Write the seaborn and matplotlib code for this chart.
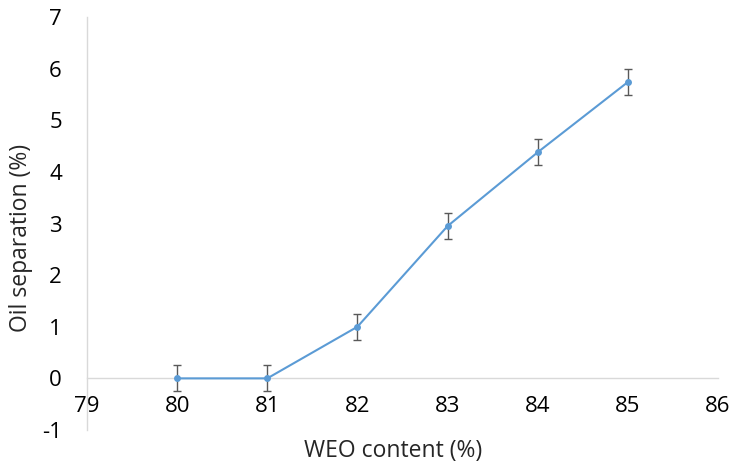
import pandas as pd
import numpy as np
import matplotlib.pyplot as plt
import seaborn as sns

weo_content = [80, 81, 82, 83, 84, 85]
oil_separation = [0.0, 0.0, 1.0, 2.95, 4.38, 5.74]
error = [0.25, 0.25, 0.25, 0.25, 0.25, 0.25]

x_ticks = [79, 80, 81, 82, 83, 84, 85, 86]
y_ticks = [-1, 0, 1, 2, 3, 4, 5, 6, 7]

sns.set_style('white')
plt.rcParams['font.family'] = ['Open Sans', 'DejaVu Sans']
plt.rcParams['axes.unicode_minus'] = False

data = pd.DataFrame({'WEO': weo_content, 'Oil': oil_separation})

fig = plt.figure(figsize=(7.36, 4.65), dpi=100)
ax = fig.add_axes([87 / 736, 35 / 465, (718 - 87) / 736, (430 - 17) / 465])

line_color = '#5B9BD5'
ax.errorbar(weo_content, oil_separation, yerr=error, fmt='none',
            ecolor='#595959', elinewidth=1, capsize=3, capthick=1, zorder=2)
sns.lineplot(x='WEO', y='Oil', data=data, ax=ax, color=line_color,
             linewidth=1.5, marker='o', markersize=5, markeredgewidth=0, zorder=3)

ax.set_xlim(79, 86)
ax.set_ylim(-1, 7)
ax.set_xticks(x_ticks)
ax.set_yticks(y_ticks)

for s in ['top', 'right']:
    ax.spines[s].set_visible(False)
ax.spines['left'].set_color('#d9d9d9')
ax.spines['left'].set_linewidth(1)
ax.spines['bottom'].set_position(('data', 0))
ax.spines['bottom'].set_color('#d9d9d9')
ax.spines['bottom'].set_linewidth(1)
ax.spines['bottom'].set_zorder(1)

ax.tick_params(axis='x', length=0, pad=13, labelsize=16, colors='#000000')
ax.tick_params(axis='y', length=0, pad=18, labelsize=16, colors='#000000')

ax.set_xlabel('WEO content (%)', fontsize=16.5, labelpad=0)
ax.xaxis.set_label_coords(0.485, -0.022)
ax.set_ylabel('Oil separation (%)', fontsize=16.5)
ax.yaxis.set_label_coords(-0.085, 0.465)

fig.savefig('out.png', dpi=100)
